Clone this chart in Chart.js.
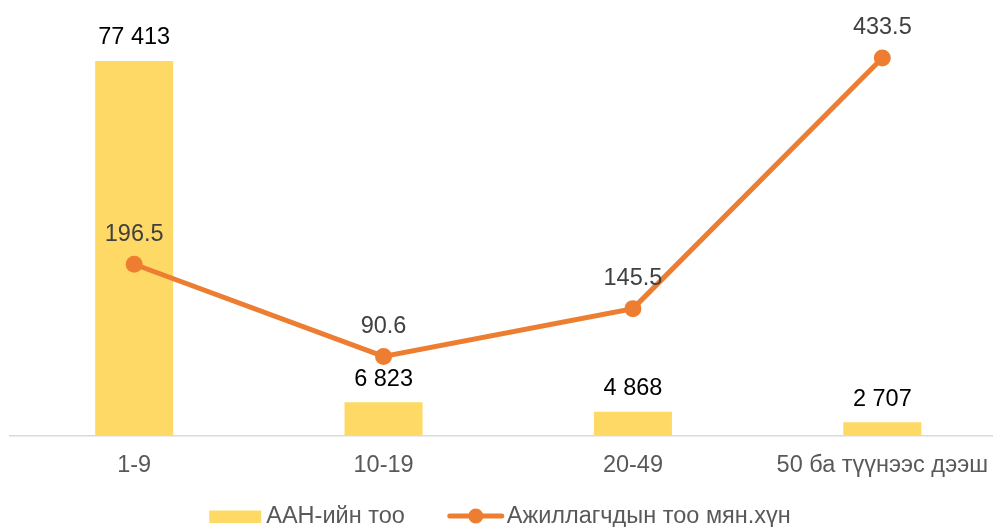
<!DOCTYPE html>
<html>
<head>
<meta charset="utf-8">
<script src="https://cdn.jsdelivr.net/npm/chart.js@4"></script>
<style>
html,body{margin:0;padding:0;overflow:hidden;background:#fff}
</style>
</head>
<body>
<canvas id="chart-1" width="1007" height="527"></canvas>
<script>
const categories=['1-9','10-19','20-49','50 ба түүнээс дээш'];
const enterprises=[77413,6823,4868,2707];
const workers=[196.5,90.6,145.5,433.5];
const seriesNames=['ААН-ийн тоо','Ажиллагчдын тоо мян.хүн'];

const FONT='"Liberation Sans", Arial, sans-serif';
const BAR='#FFD966', LINE='#ED7D31';

const fmtSpace=v=>String(v).replace(/\B(?=(\d{3})+(?!\d))/g,' ');

const valueLabels={
  id:'valueLabels',
  afterDatasetsDraw(chart){
    const c=chart.ctx;
    c.save();
    c.font='23.5px '+FONT;
    c.textAlign='center';
    c.textBaseline='middle';
    chart.data.datasets.forEach((ds,i)=>{
      const meta=chart.getDatasetMeta(i);
      meta.data.forEach((el,j)=>{
        if(ds.type==='bar'){
          c.fillStyle='#000';
          c.fillText(fmtSpace(ds.data[j]),el.x,el.y-23);
        }else{
          c.fillStyle='#404040';
          c.fillText(String(ds.data[j]),el.x,el.y-30);
        }
      });
    });
    c.restore();
  }
};

const bottomLegend={
  id:'bottomLegend',
  afterDraw(chart){
    const c=chart.ctx;
    c.save();
    c.font='23.5px '+FONT;
    c.textBaseline='middle';
    const w1=c.measureText(seriesNames[0]).width;
    const w2=c.measureText(seriesNames[1]).width;
    const total=52+5+w1+43+56+3+w2;
    let x=500-total/2;
    const y=517;
    c.fillStyle=BAR;
    c.fillRect(x,y-6.5,52,12.5);
    x+=57;
    c.fillStyle='#595959';
    c.fillText(seriesNames[0],x,y);
    x+=w1+43;
    c.strokeStyle=LINE;
    c.lineWidth=5;
    c.lineCap='round';
    c.beginPath();c.moveTo(x+2,y-1);c.lineTo(x+54,y-1);c.stroke();
    c.fillStyle=LINE;
    c.beginPath();c.arc(x+28,y-1,7.5,0,Math.PI*2);c.fill();
    x+=59;
    c.fillStyle='#595959';
    c.fillText(seriesNames[1],x,y);
    c.restore();
  }
};

const ctx=document.getElementById('chart-1');
new Chart(ctx.getContext('2d'),{
  data:{
    labels:categories,
    datasets:[
      {type:'line',label:seriesNames[1],data:workers,yAxisID:'y1',borderColor:LINE,backgroundColor:LINE,
       borderWidth:5,pointRadius:8.5,pointBackgroundColor:LINE,pointBorderWidth:0,tension:0,order:1,clip:false},
      {type:'bar',label:seriesNames[0],data:enterprises,yAxisID:'y',backgroundColor:BAR,
       categoryPercentage:1,barPercentage:0.313,order:2}
    ]
  },
  options:{
    responsive:false,
    animation:false,
    layout:{autoPadding:false,padding:{left:9.5,right:0,top:0,bottom:30.5}},
    plugins:{legend:{display:false},tooltip:{enabled:false}},
    scales:{
      x:{
        offset:true,
        grid:{display:false,drawTicks:false},
        border:{display:true,color:'#d9d9d9',width:1.5},
        ticks:{color:'#595959',font:{family:FONT,size:23.5},padding:16.5,maxRotation:0,autoSkip:false}
      },
      y:{display:false,min:0,max:90000},
      y1:{display:false,min:0,max:500}
    }
  },
  plugins:[valueLabels,bottomLegend]
});
</script>
</body>
</html>
